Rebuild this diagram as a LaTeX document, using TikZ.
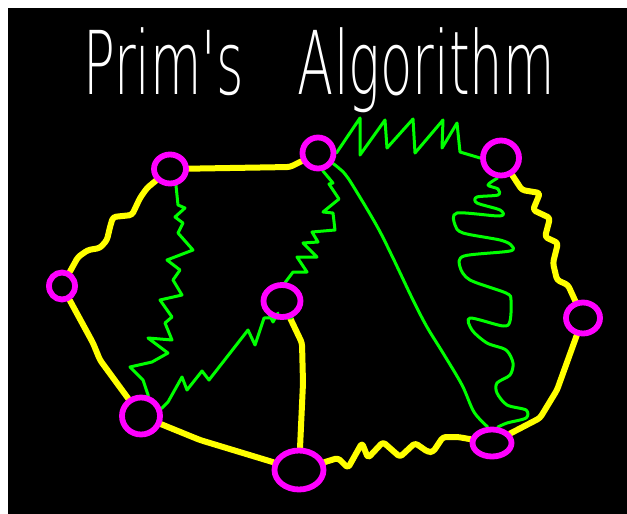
\documentclass[tikz,border=0pt]{standalone}
\usepackage{fontspec}
\newfontfamily\titlefont{DejaVu Sans ExtraLight}
\usetikzlibrary{shapes.geometric}
\definecolor{mag}{RGB}{255,0,255}
\definecolor{yel}{RGB}{255,255,0}
\definecolor{grn}{RGB}{0,255,0}
\pgfdeclarelayer{base}
\pgfdeclarelayer{edges}
\pgfsetlayers{base,edges,main}
\begin{document}
\begin{tikzpicture}[x=1pt,y=-1pt,
  vtx/.style={draw=mag, line width=5.8pt, ellipse, inner sep=0pt},
  yedge/.style={draw=yel, line width=6pt, line cap=round, line join=round, rounded corners=3pt},
  gedge/.style={draw=grn, line width=3pt, line cap=round, line join=round},
  gsmooth/.style={draw=grn, line width=3pt, line cap=round, line join=round}]
\useasboundingbox (0,0) rectangle (627,514);
\begin{pgfonlayer}{base}
\fill[white] (0,0) rectangle (627,514);
\fill[black] (8,8) rectangle (627,514);
\end{pgfonlayer}

\node[anchor=base west, inner sep=0pt, text=white,
  font=\titlefont\fontsize{88}{88}\selectfont] (title) at (83,94)
  {\scalebox{0.6}[1]{Prim's\hspace{90pt}Algorithm}};

\node[vtx, minimum width=32pt, minimum height=29pt] (A) at (170,169) {};
\node[vtx, minimum width=31pt, minimum height=31pt] (B) at (318,153) {};
\node[vtx, minimum width=36pt, minimum height=35pt] (C) at (501,158) {};
\node[vtx, minimum width=26pt, minimum height=27pt] (D) at (62,286) {};
\node[vtx, minimum width=37pt, minimum height=32pt] (E) at (282,301) {};
\node[vtx, minimum width=34pt, minimum height=31pt] (F) at (583,318) {};
\node[vtx, minimum width=38pt, minimum height=37pt] (G) at (141,416) {};
\node[vtx, minimum width=49pt, minimum height=39pt] (H) at (299,470) {};
\node[vtx, minimum width=39pt, minimum height=27pt] (I) at (492,443) {};

\begin{pgfonlayer}{edges}
% yellow edges
\draw[yedge] (A) -- (230,168) -- (290,167) -- (B);
\draw[yedge] (A) -- (147,188) -- (140,198) -- (132,215) -- (113,217) -- (110,227)
  -- (107,240) -- (100,248) -- (88,250) -- (78,257) -- (D);
\draw[yedge] (D) -- (93,343) -- (100,360) -- (G);
\draw[yedge] (G) -- (200,440) -- (H);
\draw[yedge] (E) -- (302,343) -- (303,383) -- (H);
\draw[yedge] (H) -- (338,458) -- (348,468) -- (362,443) -- (368,458) -- (383,442)
  -- (400,457) -- (415,443) -- (428,452) -- (433,452) -- (443,437) -- (458,437) -- (I);
\draw[yedge] (I) -- (540,418) -- (557,390) -- (F);
\draw[yedge] (C) -- (522,190) -- (540,193) -- (533,210) -- (550,218) -- (545,237)
  -- (558,243) -- (553,263) -- (557,280) -- (568,285) -- (F);
% green edges
\draw[gedge] (B.east) -- (360,118) -- (360,155) -- (385,120) -- (387,148) -- (413,119)
  -- (415,153) -- (443,120) -- (442,148) -- (457,123) -- (460,152) -- (C.west);
\draw[gedge] (A.-70) -- (178,205) -- (185,208) -- (175,217) -- (183,223) -- (178,233)
  -- (193,250) -- (167,260) -- (180,270) -- (173,280) -- (182,295) -- (160,300)
  -- (172,317) -- (165,323) -- (172,340) -- (148,338) -- (168,353) -- (152,362)
  -- (130,367) -- (143,380) -- (G.70);
\draw[gedge] (B.-75) -- (333,183) -- (329,184) -- (339,199) -- (323,212) -- (333,213)
  -- (335,230) -- (312,232) -- (318,242) -- (303,243) -- (317,257) -- (297,257)
  -- (307,272) -- (293,272) -- (E.80);
\draw[gedge] (G.20) -- (168,402) -- (182,377) -- (187,390) -- (202,371) -- (209,380)
  -- (248,330) -- (255,345) -- (264,318) -- (E.-60);
\draw[gedge] (268,312) -- (273,322) -- (278,313);
\draw[gsmooth] plot[smooth, tension=0.55] coordinates {(B.-35) (345,174) (358,194)
  (378,228) (393,258) (413,300) (427,327) (443,353) (462,385) (474,412) (I.105)};
\draw[gsmooth] plot[smooth, tension=0.5] coordinates {(C.-100) (488,185) (498,189)
  (498,195) (477,197) (477,203) (500,210) (500,216) (457,213) (455,225) (463,233)
  (500,240) (511,245) (510,251) (464,256) (460,267) (470,280) (506,293) (511,300)
  (510,321) (503,326) (470,318) (472,330) (487,343) (506,350) (513,363) (510,375)
  (497,383) (497,393) (507,405) (526,410) (526,418) (507,423) (I.70)};
\end{pgfonlayer}
\end{tikzpicture}
\end{document}
